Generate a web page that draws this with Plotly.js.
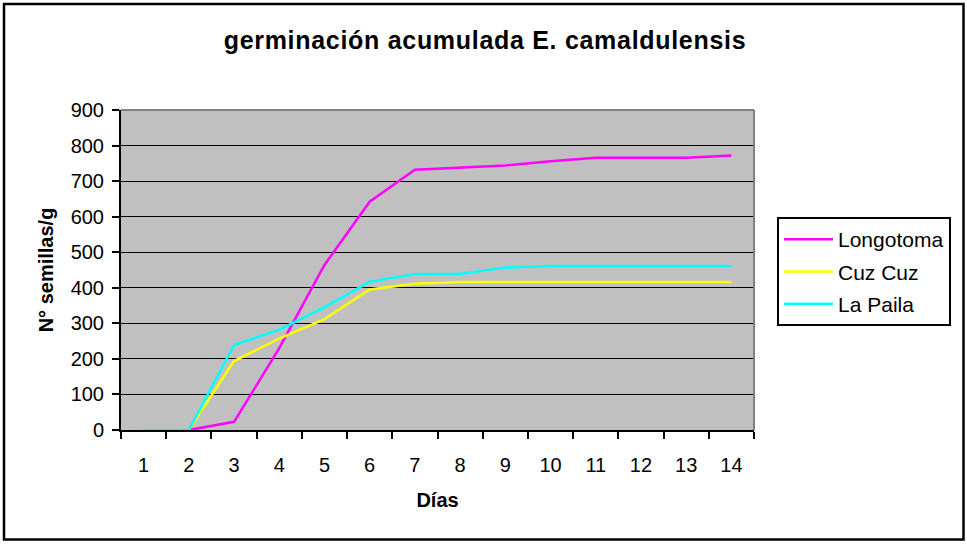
<!DOCTYPE html>
<html>
<head>
<meta charset="utf-8">
<script src="https://cdn.plot.ly/plotly-3.0.1.min.js"></script>
<style>
  html, body { margin: 0; padding: 0; background: #ffffff; }
  #chart { width: 967px; height: 544px; }
  .gtitle { letter-spacing: 0.7px; }
</style>
</head>
<body>
<div id="chart"></div>
<script>
// ---- Data ----
const dias = ['1','2','3','4','5','6','7','8','9','10','11','12','13','14'];
const longotoma = [0, 0, 23, 230, 464, 642, 732, 739, 744, 756, 766, 766, 766, 772];
const cuzCuz    = [0, 0, 194, 257, 312, 395, 411, 416, 416, 416, 416, 416, 416, 416];
const laPaila   = [0, 0, 239, 282, 345, 417, 439, 439, 457, 461, 461, 461, 461, 461];
const seriesNames = ['Longotoma', 'Cuz Cuz', 'La Paila'];
const yTicks = [0, 100, 200, 300, 400, 500, 600, 700, 800, 900];

const FONT = '"Liberation Sans", Arial, sans-serif';

const colors = ['#FF00FF', '#FFFF00', '#00FFFF'];
const values = [longotoma, cuzCuz, laPaila];

const traces = values.map((v, i) => ({
  type: 'scatter',
  mode: 'lines',
  x: dias,
  y: v,
  name: seriesNames[i],
  legendgroup: 'g' + i,
  line: { color: colors[i], width: 2.5 },
  hoverinfo: 'x+y+name'
}));

const layout = {
  width: 967,
  height: 544,
  paper_bgcolor: '#FFFFFF',
  plot_bgcolor: '#C0C0C0',
  margin: { l: 121, r: 213, t: 110, b: 114 },
  font: { family: FONT, color: '#000000', size: 20 },
  title: {
    text: 'germinación acumulada E. camaldulensis',
    font: { family: FONT, size: 25, color: '#000000', weight: 'bold' },
    x: 485 / 967, xref: 'container', xanchor: 'center',
    y: 1 - 40 / 544, yref: 'container', yanchor: 'middle'
  },
  xaxis: {
    type: 'category',
    tickson: 'boundaries',
    range: [-0.5, 13.5],
    showgrid: false,
    zeroline: false,
    showline: true,
    linecolor: '#000000',
    linewidth: 2,
    ticks: 'outside',
    ticklen: 7,
    tickwidth: 2,
    tickcolor: '#000000',
    ticklabelstandoff: 16,
    tickfont: { family: FONT, size: 20, color: '#000000' },
    title: {
      text: 'Días',
      font: { family: FONT, size: 20, color: '#000000', weight: 'bold' },
      standoff: 18
    }
  },
  yaxis: {
    range: [0, 900],
    tickvals: yTicks,
    ticktext: yTicks.map(String),
    showgrid: true,
    gridcolor: '#000000',
    gridwidth: 1.2,
    zeroline: false,
    showline: true,
    linecolor: '#000000',
    linewidth: 2,
    ticks: 'outside',
    ticklen: 7,
    tickwidth: 2,
    tickcolor: '#000000',
    ticklabelstandoff: 4,
    tickfont: { family: FONT, size: 20, color: '#000000' },
    title: {
      text: 'N° semillas/g',
      font: { family: FONT, size: 20, color: '#000000', weight: 'bold' },
      standoff: 12
    }
  },
  showlegend: true,
  legend: {
    x: (777 - 121) / 633,
    y: (430 - 217) / 320,
    xanchor: 'left',
    yanchor: 'top',
    bgcolor: '#FFFFFF',
    bordercolor: '#000000',
    borderwidth: 2,
    font: { family: FONT, size: 21, color: '#000000' },
    traceorder: 'grouped',
    tracegroupgap: 2,
    itemwidth: 49
  },
  shapes: [
    // plot-area border (grey) on top and right edges
    { type: 'line', xref: 'paper', yref: 'paper', x0: 0, x1: 1, y0: 1, y1: 1,
      line: { color: '#808080', width: 2 }, layer: 'above' },
    { type: 'line', xref: 'paper', yref: 'paper', x0: 1, x1: 1, y0: 0, y1: 1,
      line: { color: '#808080', width: 2 }, layer: 'above' },
    // outer chart border
    { type: 'rect', xref: 'paper', yref: 'paper',
      x0: (4 - 121) / 633, x1: (963.5 - 121) / 633,
      y0: (430 - 539.5) / 320, y1: (430 - 4) / 320,
      line: { color: '#000000', width: 2.5 }, fillcolor: 'rgba(0,0,0,0)', layer: 'above' }
  ]
};

Plotly.newPlot('chart', traces, layout, { displayModeBar: false, staticPlot: true });
</script>
</body>
</html>
